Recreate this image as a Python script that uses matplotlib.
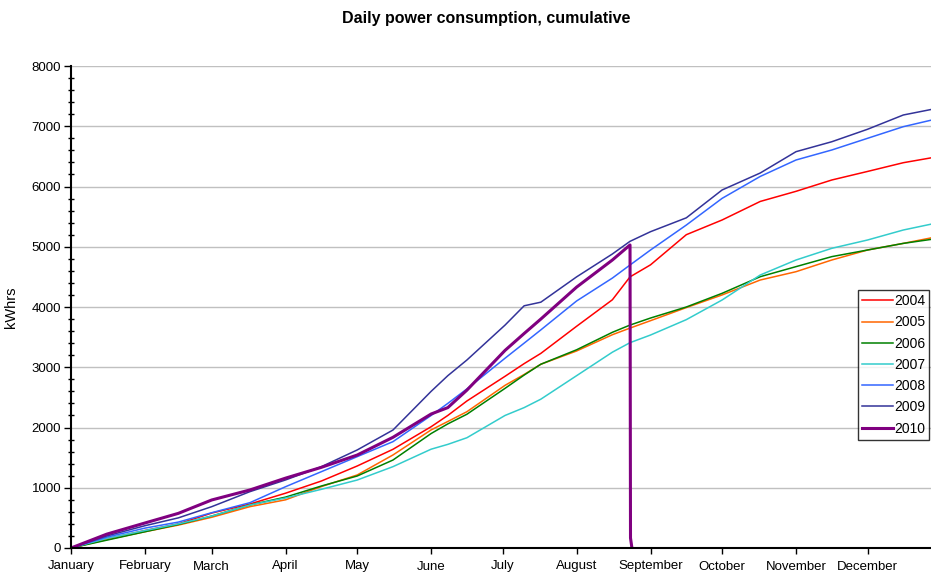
import matplotlib.pyplot as plt
from matplotlib.ticker import MultipleLocator

plt.rcParams['font.family'] = ['Liberation Sans', 'DejaVu Sans']

months = ["January", "February", "March", "April", "May", "June", "July",
          "August", "September", "October", "November", "December"]
month_start = [0, 31, 59, 90, 120, 151, 181, 212, 243, 273, 304, 334]

days = [0, 15, 31, 45, 59, 75, 90, 105, 120, 135, 151, 158, 166, 182, 190, 197,
        212, 227, 234.4, 243, 258, 273, 289, 304, 319, 334, 349, 361]

y2004 = [0, 150, 290, 400, 580, 730, 910, 1112, 1361, 1638, 2013, 2200, 2440, 2850, 3060, 3230,
         3680, 4120, 4500, 4700, 5200, 5444, 5752, 5920, 6108, 6250, 6395, 6478]
y2005 = [0, 140, 270, 380, 510, 686, 800, 1020, 1212, 1544, 1960, 2100, 2262, 2700, 2880, 3050,
         3270, 3540, 3650, 3773, 3990, 4200, 4448, 4586, 4780, 4946, 5056, 5150]
y2006 = [0, 130, 270, 390, 530, 714, 845, 1029, 1195, 1460, 1900, 2060, 2220, 2650, 2870, 3050,
         3290, 3580, 3700, 3817, 4000, 4227, 4503, 4670, 4836, 4946, 5056, 5124]
y2007 = [0, 160, 290, 400, 530, 714, 830, 974, 1128, 1350, 1640, 1720, 1830, 2200, 2330, 2470,
         2860, 3250, 3408, 3535, 3790, 4116, 4531, 4780, 4974, 5112, 5278, 5378]
y2008 = [0, 180, 330, 430, 586, 752, 1018, 1267, 1516, 1765, 2200, 2400, 2640, 3150, 3400, 3620,
         4100, 4480, 4697, 4946, 5360, 5803, 6167, 6440, 6606, 6800, 6993, 7104]
y2009 = [0, 200, 370, 500, 686, 935, 1130, 1350, 1627, 1958, 2600, 2860, 3120, 3700, 4020, 4080,
         4500, 4880, 5090, 5250, 5480, 5942, 6224, 6578, 6743, 6950, 7187, 7281]

days2010 = [0, 15, 31, 45, 59, 75, 90, 105, 120, 135, 151, 158, 166, 182, 190, 197,
            212, 227, 234.4, 234.6, 235.2]
y2010 = [0, 230, 415, 575, 797, 963, 1160, 1339, 1543, 1837, 2224, 2330, 2620, 3280, 3560, 3800,
         4330, 4780, 5030, 166, 0]

series = [("2004", y2004, "#FF0000"), ("2005", y2005, "#FF6600"),
          ("2006", y2006, "#008000"), ("2007", y2007, "#33CCCC"),
          ("2008", y2008, "#3366FF"), ("2009", y2009, "#333399")]

fig = plt.figure(figsize=(9.31, 5.74), dpi=100)
ax = fig.add_axes([71 / 931, 26 / 574, 860 / 931, 482 / 574])

for name, vals, col in series:
    ax.plot(days, vals, color=col, lw=1.1, label=name)
ax.plot(days2010, y2010, color="#800080", lw=2.2, label="2010")

ax.set_xlim(0, 360.6)
ax.set_ylim(0, 8000)
ax.set_xticks(month_start)
ax.set_xticklabels(months, fontsize=9.5)
ax.yaxis.set_major_locator(MultipleLocator(1000))
ax.yaxis.set_minor_locator(MultipleLocator(200))
ax.tick_params(axis='y', which='major', direction='out', length=5, width=1, labelsize=9.5, pad=2)
ax.tick_params(axis='y', which='minor', direction='inout', length=4, width=1)
ax.tick_params(axis='x', which='major', direction='out', length=4, width=1, pad=5)
ax.grid(axis='y', color='#C0C0C0', lw=1)
ax.set_axisbelow(True)
for s in ['top', 'right']:
    ax.spines[s].set_visible(False)
for s in ['left', 'bottom']:
    ax.spines[s].set_linewidth(1.5)

ax.set_ylabel("kWhrs", fontsize=10.5, labelpad=10)
fig.text(486 / 931, 1 - 18 / 574, "Daily power consumption, cumulative",
         ha='center', va='center', fontsize=11.5, fontweight='bold')

leg = ax.legend(loc='upper left', bbox_to_anchor=((858 - 71) / 860, (548 - 290) / 482),
                fontsize=10, frameon=True, fancybox=False, handlelength=2.2,
                handletextpad=0.1, borderpad=0.3, labelspacing=0.52, borderaxespad=0)
leg.get_frame().set_edgecolor('black')
leg.get_frame().set_linewidth(1)

fig.savefig("out.png", dpi=100)
